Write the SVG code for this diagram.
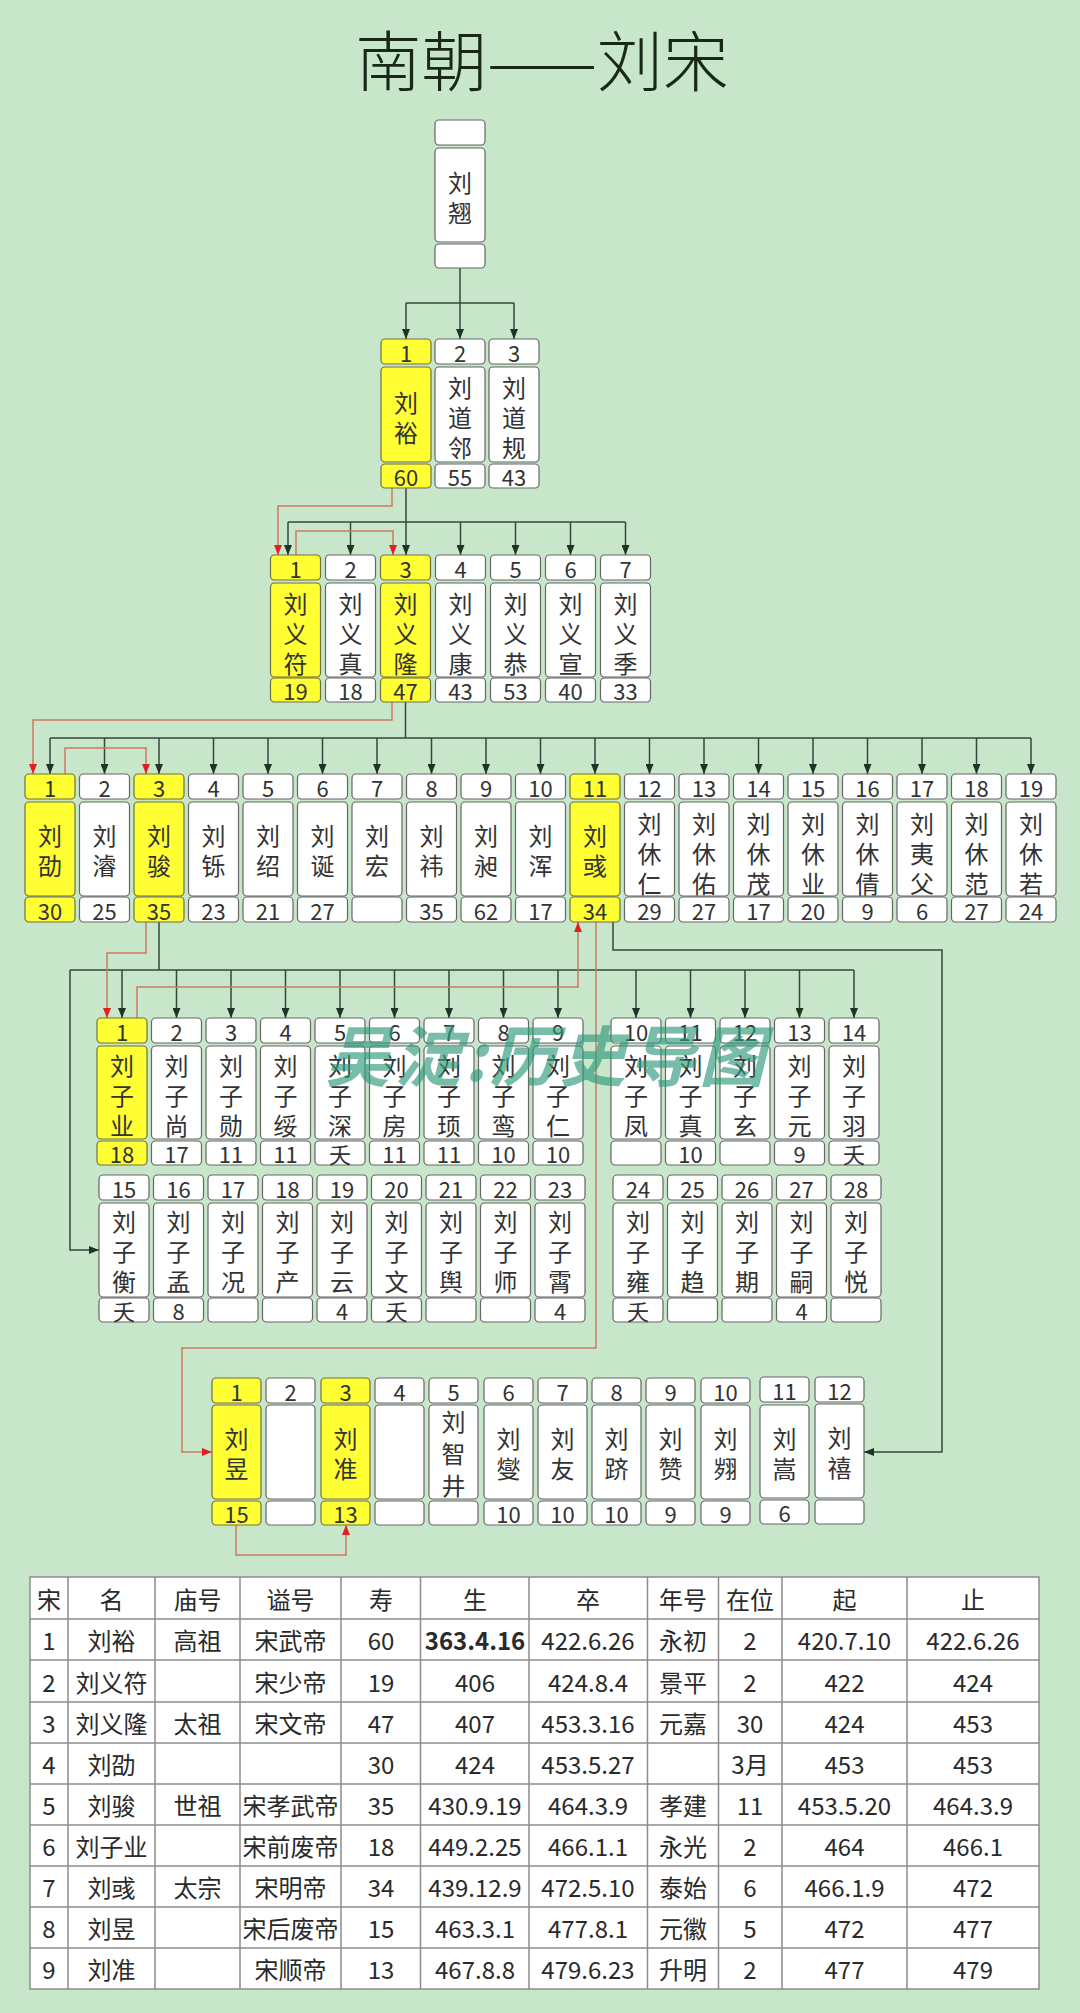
<svg xmlns="http://www.w3.org/2000/svg" width="1080" height="2013" viewBox="0 0 1080 2013">
<style>
.w{fill:#fff;stroke:#666;stroke-width:1.2}
.y{fill:#ffff33;stroke:#70703c;stroke-width:1.2}
text{font-family:"Noto Sans CJK SC","Noto Sans",sans-serif;fill:#333;text-anchor:middle;dominant-baseline:central}
.d{font-size:22px}
.nm{font-size:24px}
.c{fill:none;stroke:#34483a;stroke-width:1.5}
.r{fill:none;stroke:#cf7a60;stroke-width:1.5}
.ca{marker-end:url(#ab)}
.ra{marker-end:url(#ar)}
.tb{font-size:24px;fill:#2a2a2a}
.tl{fill:none;stroke:#8c8c8c;stroke-width:1.5}
</style>
<defs>
<marker id="ab" markerUnits="userSpaceOnUse" markerWidth="10" markerHeight="8" refX="10" refY="4" orient="auto"><path d="M0,0 L10,4 L0,8 z" fill="#1f3326"/></marker>
<marker id="ar" markerUnits="userSpaceOnUse" markerWidth="10" markerHeight="8" refX="10" refY="4" orient="auto"><path d="M0,0 L10,4 L0,8 z" fill="#e32020"/></marker>
</defs>
<rect x="0" y="0" width="1080" height="2013" fill="#c7e6ca"/>
<text x="542" y="57" style="font-size:66px;fill:#1a281a;font-weight:300">南朝——刘宋</text>

<g id="connectors">
<path class="c ca" d="M460,268 V339"/>
<path class="c" d="M406,303 H514"/>
<path class="c ca" d="M406,303 V339"/>
<path class="c ca" d="M514,303 V339"/>
<path class="c ca" d="M406,488 V555"/>
<path class="c" d="M288,522 H625.5"/>
<path class="c ca" d="M288,522 V555"/>
<path class="c ca" d="M350.5,522 V555"/>
<path class="c ca" d="M460.5,522 V555"/>
<path class="c ca" d="M515.5,522 V555"/>
<path class="c ca" d="M570.5,522 V555"/>
<path class="c ca" d="M625.5,522 V555"/>
<path class="c" d="M405.5,702 V738 M50,738 H1031"/>
<path class="c ca" d="M50,738 V774"/>
<path class="c ca" d="M104.5,738 V774"/>
<path class="c ca" d="M159,738 V774"/>
<path class="c ca" d="M213.5,738 V774"/>
<path class="c ca" d="M268,738 V774"/>
<path class="c ca" d="M322.5,738 V774"/>
<path class="c ca" d="M377,738 V774"/>
<path class="c ca" d="M431.5,738 V774"/>
<path class="c ca" d="M486,738 V774"/>
<path class="c ca" d="M540.5,738 V774"/>
<path class="c ca" d="M595,738 V774"/>
<path class="c ca" d="M649.5,738 V774"/>
<path class="c ca" d="M704,738 V774"/>
<path class="c ca" d="M758.5,738 V774"/>
<path class="c ca" d="M813,738 V774"/>
<path class="c ca" d="M867.5,738 V774"/>
<path class="c ca" d="M922,738 V774"/>
<path class="c ca" d="M976.5,738 V774"/>
<path class="c ca" d="M1031,738 V774"/>
<path class="c" d="M159,922 V970 M70,970 H854"/>
<path class="c ca" d="M70,970 V1250 H99"/>
<path class="c ca" d="M122,970 V1018"/>
<path class="c ca" d="M176.5,970 V1018"/>
<path class="c ca" d="M231,970 V1018"/>
<path class="c ca" d="M285.5,970 V1018"/>
<path class="c ca" d="M340,970 V1018"/>
<path class="c ca" d="M394.5,970 V1018"/>
<path class="c ca" d="M449,970 V1018"/>
<path class="c ca" d="M503.5,970 V1018"/>
<path class="c ca" d="M558,970 V1018"/>
<path class="c ca" d="M636,970 V1018"/>
<path class="c ca" d="M690.5,970 V1018"/>
<path class="c ca" d="M745,970 V1018"/>
<path class="c ca" d="M799.5,970 V1018"/>
<path class="c ca" d="M854,970 V1018"/>
<path class="c ca" d="M613,922 V950 H942 V1452 H864"/>
<path class="r ra" d="M392,488 V506 H278 V555"/>
<path class="r ra" d="M296,555 V531 H393 V555"/>
<path class="r ra" d="M392,702 V720 H33 V774"/>
<path class="r ra" d="M65,774 V748 H146 V774"/>
<path class="r ra" d="M146,922 V953 H107 V1018"/>
<path class="r ra" d="M137,1018 V987 H578 V922"/>
<path class="r ra" d="M596,922 V1348 H182 V1452 H212"/>
<path class="r ra" d="M236,1525 V1555 H346 V1525"/>
</g>

<g id="liuqiao"><rect class="w" x="435" y="120" width="50" height="25" rx="4"/><rect class="w" x="435" y="148" width="50" height="94" rx="4"/><rect class="w" x="435" y="244" width="50" height="24" rx="4"/><text class="nm" x="460" y="181">刘<tspan x="460" dy="30">翘</tspan></text></g>

<g id="liuyu"><rect class="y" x="381" y="339" width="50" height="25" rx="4"/><rect class="y" x="381" y="367" width="50" height="95" rx="4"/><rect class="y" x="381" y="464" width="50" height="24" rx="4"/><text class="d" x="406" y="351.5">1</text><text class="nm" x="406" y="401">刘<tspan x="406" dy="30">裕</tspan></text><text class="d" x="406" y="476">60</text></g>
<g id="liudaolian"><rect class="w" x="435" y="339" width="50" height="25" rx="4"/><rect class="w" x="435" y="367" width="50" height="95" rx="4"/><rect class="w" x="435" y="464" width="50" height="24" rx="4"/><text class="d" x="460" y="351.5">2</text><text class="nm" x="460" y="386">刘<tspan x="460" dy="30">道</tspan><tspan x="460" dy="30">邻</tspan></text><text class="d" x="460" y="476">55</text></g>
<g id="liudaogui"><rect class="w" x="489" y="339" width="50" height="25" rx="4"/><rect class="w" x="489" y="367" width="50" height="95" rx="4"/><rect class="w" x="489" y="464" width="50" height="24" rx="4"/><text class="d" x="514" y="351.5">3</text><text class="nm" x="514" y="386">刘<tspan x="514" dy="30">道</tspan><tspan x="514" dy="30">规</tspan></text><text class="d" x="514" y="476">43</text></g>

<g id="g2-1"><rect class="y" x="270.5" y="555" width="50" height="25" rx="4"/><rect class="y" x="270.5" y="583" width="50" height="94" rx="4"/><rect class="y" x="270.5" y="678" width="50" height="24" rx="4"/><text class="d" x="295.5" y="567.5">1</text><text class="nm" x="295.5" y="602">刘<tspan x="295.5" dy="30">义</tspan><tspan x="295.5" dy="30">符</tspan></text><text class="d" x="295.5" y="690">19</text></g>
<g id="g2-2"><rect class="w" x="325.5" y="555" width="50" height="25" rx="4"/><rect class="w" x="325.5" y="583" width="50" height="94" rx="4"/><rect class="w" x="325.5" y="678" width="50" height="24" rx="4"/><text class="d" x="350.5" y="567.5">2</text><text class="nm" x="350.5" y="602">刘<tspan x="350.5" dy="30">义</tspan><tspan x="350.5" dy="30">真</tspan></text><text class="d" x="350.5" y="690">18</text></g>
<g id="g2-3"><rect class="y" x="380.5" y="555" width="50" height="25" rx="4"/><rect class="y" x="380.5" y="583" width="50" height="94" rx="4"/><rect class="y" x="380.5" y="678" width="50" height="24" rx="4"/><text class="d" x="405.5" y="567.5">3</text><text class="nm" x="405.5" y="602">刘<tspan x="405.5" dy="30">义</tspan><tspan x="405.5" dy="30">隆</tspan></text><text class="d" x="405.5" y="690">47</text></g>
<g id="g2-4"><rect class="w" x="435.5" y="555" width="50" height="25" rx="4"/><rect class="w" x="435.5" y="583" width="50" height="94" rx="4"/><rect class="w" x="435.5" y="678" width="50" height="24" rx="4"/><text class="d" x="460.5" y="567.5">4</text><text class="nm" x="460.5" y="602">刘<tspan x="460.5" dy="30">义</tspan><tspan x="460.5" dy="30">康</tspan></text><text class="d" x="460.5" y="690">43</text></g>
<g id="g2-5"><rect class="w" x="490.5" y="555" width="50" height="25" rx="4"/><rect class="w" x="490.5" y="583" width="50" height="94" rx="4"/><rect class="w" x="490.5" y="678" width="50" height="24" rx="4"/><text class="d" x="515.5" y="567.5">5</text><text class="nm" x="515.5" y="602">刘<tspan x="515.5" dy="30">义</tspan><tspan x="515.5" dy="30">恭</tspan></text><text class="d" x="515.5" y="690">53</text></g>
<g id="g2-6"><rect class="w" x="545.5" y="555" width="50" height="25" rx="4"/><rect class="w" x="545.5" y="583" width="50" height="94" rx="4"/><rect class="w" x="545.5" y="678" width="50" height="24" rx="4"/><text class="d" x="570.5" y="567.5">6</text><text class="nm" x="570.5" y="602">刘<tspan x="570.5" dy="30">义</tspan><tspan x="570.5" dy="30">宣</tspan></text><text class="d" x="570.5" y="690">40</text></g>
<g id="g2-7"><rect class="w" x="600.5" y="555" width="50" height="25" rx="4"/><rect class="w" x="600.5" y="583" width="50" height="94" rx="4"/><rect class="w" x="600.5" y="678" width="50" height="24" rx="4"/><text class="d" x="625.5" y="567.5">7</text><text class="nm" x="625.5" y="602">刘<tspan x="625.5" dy="30">义</tspan><tspan x="625.5" dy="30">季</tspan></text><text class="d" x="625.5" y="690">33</text></g>

<g id="g3-1"><rect class="y" x="25" y="774" width="50" height="25" rx="4"/><rect class="y" x="25" y="802" width="50" height="94" rx="4"/><rect class="y" x="25" y="897" width="50" height="25" rx="4"/><text class="d" x="50" y="786.5">1</text><text class="nm" x="50" y="834">刘<tspan x="50" dy="30">劭</tspan></text><text class="d" x="50" y="909.5">30</text></g>
<g id="g3-2"><rect class="w" x="79.5" y="774" width="50" height="25" rx="4"/><rect class="w" x="79.5" y="802" width="50" height="94" rx="4"/><rect class="w" x="79.5" y="897" width="50" height="25" rx="4"/><text class="d" x="104.5" y="786.5">2</text><text class="nm" x="104.5" y="834">刘<tspan x="104.5" dy="30">濬</tspan></text><text class="d" x="104.5" y="909.5">25</text></g>
<g id="g3-3"><rect class="y" x="134" y="774" width="50" height="25" rx="4"/><rect class="y" x="134" y="802" width="50" height="94" rx="4"/><rect class="y" x="134" y="897" width="50" height="25" rx="4"/><text class="d" x="159" y="786.5">3</text><text class="nm" x="159" y="834">刘<tspan x="159" dy="30">骏</tspan></text><text class="d" x="159" y="909.5">35</text></g>
<g id="g3-4"><rect class="w" x="188.5" y="774" width="50" height="25" rx="4"/><rect class="w" x="188.5" y="802" width="50" height="94" rx="4"/><rect class="w" x="188.5" y="897" width="50" height="25" rx="4"/><text class="d" x="213.5" y="786.5">4</text><text class="nm" x="213.5" y="834">刘<tspan x="213.5" dy="30">铄</tspan></text><text class="d" x="213.5" y="909.5">23</text></g>
<g id="g3-5"><rect class="w" x="243" y="774" width="50" height="25" rx="4"/><rect class="w" x="243" y="802" width="50" height="94" rx="4"/><rect class="w" x="243" y="897" width="50" height="25" rx="4"/><text class="d" x="268" y="786.5">5</text><text class="nm" x="268" y="834">刘<tspan x="268" dy="30">绍</tspan></text><text class="d" x="268" y="909.5">21</text></g>
<g id="g3-6"><rect class="w" x="297.5" y="774" width="50" height="25" rx="4"/><rect class="w" x="297.5" y="802" width="50" height="94" rx="4"/><rect class="w" x="297.5" y="897" width="50" height="25" rx="4"/><text class="d" x="322.5" y="786.5">6</text><text class="nm" x="322.5" y="834">刘<tspan x="322.5" dy="30">诞</tspan></text><text class="d" x="322.5" y="909.5">27</text></g>
<g id="g3-7"><rect class="w" x="352" y="774" width="50" height="25" rx="4"/><rect class="w" x="352" y="802" width="50" height="94" rx="4"/><rect class="w" x="352" y="897" width="50" height="25" rx="4"/><text class="d" x="377" y="786.5">7</text><text class="nm" x="377" y="834">刘<tspan x="377" dy="30">宏</tspan></text></g>
<g id="g3-8"><rect class="w" x="406.5" y="774" width="50" height="25" rx="4"/><rect class="w" x="406.5" y="802" width="50" height="94" rx="4"/><rect class="w" x="406.5" y="897" width="50" height="25" rx="4"/><text class="d" x="431.5" y="786.5">8</text><text class="nm" x="431.5" y="834">刘<tspan x="431.5" dy="30">祎</tspan></text><text class="d" x="431.5" y="909.5">35</text></g>
<g id="g3-9"><rect class="w" x="461" y="774" width="50" height="25" rx="4"/><rect class="w" x="461" y="802" width="50" height="94" rx="4"/><rect class="w" x="461" y="897" width="50" height="25" rx="4"/><text class="d" x="486" y="786.5">9</text><text class="nm" x="486" y="834">刘<tspan x="486" dy="30">昶</tspan></text><text class="d" x="486" y="909.5">62</text></g>
<g id="g3-10"><rect class="w" x="515.5" y="774" width="50" height="25" rx="4"/><rect class="w" x="515.5" y="802" width="50" height="94" rx="4"/><rect class="w" x="515.5" y="897" width="50" height="25" rx="4"/><text class="d" x="540.5" y="786.5">10</text><text class="nm" x="540.5" y="834">刘<tspan x="540.5" dy="30">浑</tspan></text><text class="d" x="540.5" y="909.5">17</text></g>
<g id="g3-11"><rect class="y" x="570" y="774" width="50" height="25" rx="4"/><rect class="y" x="570" y="802" width="50" height="94" rx="4"/><rect class="y" x="570" y="897" width="50" height="25" rx="4"/><text class="d" x="595" y="786.5">11</text><text class="nm" x="595" y="834">刘<tspan x="595" dy="30">彧</tspan></text><text class="d" x="595" y="909.5">34</text></g>
<g id="g3-12"><rect class="w" x="624.5" y="774" width="50" height="25" rx="4"/><rect class="w" x="624.5" y="802" width="50" height="94" rx="4"/><rect class="w" x="624.5" y="897" width="50" height="25" rx="4"/><text class="d" x="649.5" y="786.5">12</text><text class="nm" x="649.5" y="822">刘<tspan x="649.5" dy="30">休</tspan><tspan x="649.5" dy="30">仁</tspan></text><text class="d" x="649.5" y="909.5">29</text></g>
<g id="g3-13"><rect class="w" x="679" y="774" width="50" height="25" rx="4"/><rect class="w" x="679" y="802" width="50" height="94" rx="4"/><rect class="w" x="679" y="897" width="50" height="25" rx="4"/><text class="d" x="704" y="786.5">13</text><text class="nm" x="704" y="822">刘<tspan x="704" dy="30">休</tspan><tspan x="704" dy="30">佑</tspan></text><text class="d" x="704" y="909.5">27</text></g>
<g id="g3-14"><rect class="w" x="733.5" y="774" width="50" height="25" rx="4"/><rect class="w" x="733.5" y="802" width="50" height="94" rx="4"/><rect class="w" x="733.5" y="897" width="50" height="25" rx="4"/><text class="d" x="758.5" y="786.5">14</text><text class="nm" x="758.5" y="822">刘<tspan x="758.5" dy="30">休</tspan><tspan x="758.5" dy="30">茂</tspan></text><text class="d" x="758.5" y="909.5">17</text></g>
<g id="g3-15"><rect class="w" x="788" y="774" width="50" height="25" rx="4"/><rect class="w" x="788" y="802" width="50" height="94" rx="4"/><rect class="w" x="788" y="897" width="50" height="25" rx="4"/><text class="d" x="813" y="786.5">15</text><text class="nm" x="813" y="822">刘<tspan x="813" dy="30">休</tspan><tspan x="813" dy="30">业</tspan></text><text class="d" x="813" y="909.5">20</text></g>
<g id="g3-16"><rect class="w" x="842.5" y="774" width="50" height="25" rx="4"/><rect class="w" x="842.5" y="802" width="50" height="94" rx="4"/><rect class="w" x="842.5" y="897" width="50" height="25" rx="4"/><text class="d" x="867.5" y="786.5">16</text><text class="nm" x="867.5" y="822">刘<tspan x="867.5" dy="30">休</tspan><tspan x="867.5" dy="30">倩</tspan></text><text class="d" x="867.5" y="909.5">9</text></g>
<g id="g3-17"><rect class="w" x="897" y="774" width="50" height="25" rx="4"/><rect class="w" x="897" y="802" width="50" height="94" rx="4"/><rect class="w" x="897" y="897" width="50" height="25" rx="4"/><text class="d" x="922" y="786.5">17</text><text class="nm" x="922" y="822">刘<tspan x="922" dy="30">夷</tspan><tspan x="922" dy="30">父</tspan></text><text class="d" x="922" y="909.5">6</text></g>
<g id="g3-18"><rect class="w" x="951.5" y="774" width="50" height="25" rx="4"/><rect class="w" x="951.5" y="802" width="50" height="94" rx="4"/><rect class="w" x="951.5" y="897" width="50" height="25" rx="4"/><text class="d" x="976.5" y="786.5">18</text><text class="nm" x="976.5" y="822">刘<tspan x="976.5" dy="30">休</tspan><tspan x="976.5" dy="30">范</tspan></text><text class="d" x="976.5" y="909.5">27</text></g>
<g id="g3-19"><rect class="w" x="1006" y="774" width="50" height="25" rx="4"/><rect class="w" x="1006" y="802" width="50" height="94" rx="4"/><rect class="w" x="1006" y="897" width="50" height="25" rx="4"/><text class="d" x="1031" y="786.5">19</text><text class="nm" x="1031" y="822">刘<tspan x="1031" dy="30">休</tspan><tspan x="1031" dy="30">若</tspan></text><text class="d" x="1031" y="909.5">24</text></g>

<g id="g4-1"><rect class="y" x="97" y="1018" width="50" height="25" rx="4"/><rect class="y" x="97" y="1046" width="50" height="93" rx="4"/><rect class="y" x="97" y="1141" width="50" height="24" rx="4"/><text class="d" x="122" y="1030.5">1</text><text class="nm" x="122" y="1064">刘<tspan x="122" dy="30">子</tspan><tspan x="122" dy="30">业</tspan></text><text class="d" x="122" y="1153">18</text></g>
<g id="g4-2"><rect class="w" x="151.5" y="1018" width="50" height="25" rx="4"/><rect class="w" x="151.5" y="1046" width="50" height="93" rx="4"/><rect class="w" x="151.5" y="1141" width="50" height="24" rx="4"/><text class="d" x="176.5" y="1030.5">2</text><text class="nm" x="176.5" y="1064">刘<tspan x="176.5" dy="30">子</tspan><tspan x="176.5" dy="30">尚</tspan></text><text class="d" x="176.5" y="1153">17</text></g>
<g id="g4-3"><rect class="w" x="206" y="1018" width="50" height="25" rx="4"/><rect class="w" x="206" y="1046" width="50" height="93" rx="4"/><rect class="w" x="206" y="1141" width="50" height="24" rx="4"/><text class="d" x="231" y="1030.5">3</text><text class="nm" x="231" y="1064">刘<tspan x="231" dy="30">子</tspan><tspan x="231" dy="30">勋</tspan></text><text class="d" x="231" y="1153">11</text></g>
<g id="g4-4"><rect class="w" x="260.5" y="1018" width="50" height="25" rx="4"/><rect class="w" x="260.5" y="1046" width="50" height="93" rx="4"/><rect class="w" x="260.5" y="1141" width="50" height="24" rx="4"/><text class="d" x="285.5" y="1030.5">4</text><text class="nm" x="285.5" y="1064">刘<tspan x="285.5" dy="30">子</tspan><tspan x="285.5" dy="30">绥</tspan></text><text class="d" x="285.5" y="1153">11</text></g>
<g id="g4-5"><rect class="w" x="315" y="1018" width="50" height="25" rx="4"/><rect class="w" x="315" y="1046" width="50" height="93" rx="4"/><rect class="w" x="315" y="1141" width="50" height="24" rx="4"/><text class="d" x="340" y="1030.5">5</text><text class="nm" x="340" y="1064">刘<tspan x="340" dy="30">子</tspan><tspan x="340" dy="30">深</tspan></text><text class="d" x="340" y="1153">夭</text></g>
<g id="g4-6"><rect class="w" x="369.5" y="1018" width="50" height="25" rx="4"/><rect class="w" x="369.5" y="1046" width="50" height="93" rx="4"/><rect class="w" x="369.5" y="1141" width="50" height="24" rx="4"/><text class="d" x="394.5" y="1030.5">6</text><text class="nm" x="394.5" y="1064">刘<tspan x="394.5" dy="30">子</tspan><tspan x="394.5" dy="30">房</tspan></text><text class="d" x="394.5" y="1153">11</text></g>
<g id="g4-7"><rect class="w" x="424" y="1018" width="50" height="25" rx="4"/><rect class="w" x="424" y="1046" width="50" height="93" rx="4"/><rect class="w" x="424" y="1141" width="50" height="24" rx="4"/><text class="d" x="449" y="1030.5">7</text><text class="nm" x="449" y="1064">刘<tspan x="449" dy="30">子</tspan><tspan x="449" dy="30">顼</tspan></text><text class="d" x="449" y="1153">11</text></g>
<g id="g4-8"><rect class="w" x="478.5" y="1018" width="50" height="25" rx="4"/><rect class="w" x="478.5" y="1046" width="50" height="93" rx="4"/><rect class="w" x="478.5" y="1141" width="50" height="24" rx="4"/><text class="d" x="503.5" y="1030.5">8</text><text class="nm" x="503.5" y="1064">刘<tspan x="503.5" dy="30">子</tspan><tspan x="503.5" dy="30">鸾</tspan></text><text class="d" x="503.5" y="1153">10</text></g>
<g id="g4-9"><rect class="w" x="533" y="1018" width="50" height="25" rx="4"/><rect class="w" x="533" y="1046" width="50" height="93" rx="4"/><rect class="w" x="533" y="1141" width="50" height="24" rx="4"/><text class="d" x="558" y="1030.5">9</text><text class="nm" x="558" y="1064">刘<tspan x="558" dy="30">子</tspan><tspan x="558" dy="30">仁</tspan></text><text class="d" x="558" y="1153">10</text></g>
<g id="g4-10"><rect class="w" x="611" y="1018" width="50" height="25" rx="4"/><rect class="w" x="611" y="1046" width="50" height="93" rx="4"/><rect class="w" x="611" y="1141" width="50" height="24" rx="4"/><text class="d" x="636" y="1030.5">10</text><text class="nm" x="636" y="1064">刘<tspan x="636" dy="30">子</tspan><tspan x="636" dy="30">凤</tspan></text></g>
<g id="g4-11"><rect class="w" x="665.5" y="1018" width="50" height="25" rx="4"/><rect class="w" x="665.5" y="1046" width="50" height="93" rx="4"/><rect class="w" x="665.5" y="1141" width="50" height="24" rx="4"/><text class="d" x="690.5" y="1030.5">11</text><text class="nm" x="690.5" y="1064">刘<tspan x="690.5" dy="30">子</tspan><tspan x="690.5" dy="30">真</tspan></text><text class="d" x="690.5" y="1153">10</text></g>
<g id="g4-12"><rect class="w" x="720" y="1018" width="50" height="25" rx="4"/><rect class="w" x="720" y="1046" width="50" height="93" rx="4"/><rect class="w" x="720" y="1141" width="50" height="24" rx="4"/><text class="d" x="745" y="1030.5">12</text><text class="nm" x="745" y="1064">刘<tspan x="745" dy="30">子</tspan><tspan x="745" dy="30">玄</tspan></text></g>
<g id="g4-13"><rect class="w" x="774.5" y="1018" width="50" height="25" rx="4"/><rect class="w" x="774.5" y="1046" width="50" height="93" rx="4"/><rect class="w" x="774.5" y="1141" width="50" height="24" rx="4"/><text class="d" x="799.5" y="1030.5">13</text><text class="nm" x="799.5" y="1064">刘<tspan x="799.5" dy="30">子</tspan><tspan x="799.5" dy="30">元</tspan></text><text class="d" x="799.5" y="1153">9</text></g>
<g id="g4-14"><rect class="w" x="829" y="1018" width="50" height="25" rx="4"/><rect class="w" x="829" y="1046" width="50" height="93" rx="4"/><rect class="w" x="829" y="1141" width="50" height="24" rx="4"/><text class="d" x="854" y="1030.5">14</text><text class="nm" x="854" y="1064">刘<tspan x="854" dy="30">子</tspan><tspan x="854" dy="30">羽</tspan></text><text class="d" x="854" y="1153">夭</text></g>

<g id="g4-15"><rect class="w" x="99" y="1175" width="50" height="25" rx="4"/><rect class="w" x="99" y="1203" width="50" height="94" rx="4"/><rect class="w" x="99" y="1298" width="50" height="24" rx="4"/><text class="d" x="124" y="1187.5">15</text><text class="nm" x="124" y="1220">刘<tspan x="124" dy="30">子</tspan><tspan x="124" dy="30">衡</tspan></text><text class="d" x="124" y="1310">夭</text></g>
<g id="g4-16"><rect class="w" x="153.5" y="1175" width="50" height="25" rx="4"/><rect class="w" x="153.5" y="1203" width="50" height="94" rx="4"/><rect class="w" x="153.5" y="1298" width="50" height="24" rx="4"/><text class="d" x="178.5" y="1187.5">16</text><text class="nm" x="178.5" y="1220">刘<tspan x="178.5" dy="30">子</tspan><tspan x="178.5" dy="30">孟</tspan></text><text class="d" x="178.5" y="1310">8</text></g>
<g id="g4-17"><rect class="w" x="208" y="1175" width="50" height="25" rx="4"/><rect class="w" x="208" y="1203" width="50" height="94" rx="4"/><rect class="w" x="208" y="1298" width="50" height="24" rx="4"/><text class="d" x="233" y="1187.5">17</text><text class="nm" x="233" y="1220">刘<tspan x="233" dy="30">子</tspan><tspan x="233" dy="30">况</tspan></text></g>
<g id="g4-18"><rect class="w" x="262.5" y="1175" width="50" height="25" rx="4"/><rect class="w" x="262.5" y="1203" width="50" height="94" rx="4"/><rect class="w" x="262.5" y="1298" width="50" height="24" rx="4"/><text class="d" x="287.5" y="1187.5">18</text><text class="nm" x="287.5" y="1220">刘<tspan x="287.5" dy="30">子</tspan><tspan x="287.5" dy="30">产</tspan></text></g>
<g id="g4-19"><rect class="w" x="317" y="1175" width="50" height="25" rx="4"/><rect class="w" x="317" y="1203" width="50" height="94" rx="4"/><rect class="w" x="317" y="1298" width="50" height="24" rx="4"/><text class="d" x="342" y="1187.5">19</text><text class="nm" x="342" y="1220">刘<tspan x="342" dy="30">子</tspan><tspan x="342" dy="30">云</tspan></text><text class="d" x="342" y="1310">4</text></g>
<g id="g4-20"><rect class="w" x="371.5" y="1175" width="50" height="25" rx="4"/><rect class="w" x="371.5" y="1203" width="50" height="94" rx="4"/><rect class="w" x="371.5" y="1298" width="50" height="24" rx="4"/><text class="d" x="396.5" y="1187.5">20</text><text class="nm" x="396.5" y="1220">刘<tspan x="396.5" dy="30">子</tspan><tspan x="396.5" dy="30">文</tspan></text><text class="d" x="396.5" y="1310">夭</text></g>
<g id="g4-21"><rect class="w" x="426" y="1175" width="50" height="25" rx="4"/><rect class="w" x="426" y="1203" width="50" height="94" rx="4"/><rect class="w" x="426" y="1298" width="50" height="24" rx="4"/><text class="d" x="451" y="1187.5">21</text><text class="nm" x="451" y="1220">刘<tspan x="451" dy="30">子</tspan><tspan x="451" dy="30">舆</tspan></text></g>
<g id="g4-22"><rect class="w" x="480.5" y="1175" width="50" height="25" rx="4"/><rect class="w" x="480.5" y="1203" width="50" height="94" rx="4"/><rect class="w" x="480.5" y="1298" width="50" height="24" rx="4"/><text class="d" x="505.5" y="1187.5">22</text><text class="nm" x="505.5" y="1220">刘<tspan x="505.5" dy="30">子</tspan><tspan x="505.5" dy="30">师</tspan></text></g>
<g id="g4-23"><rect class="w" x="535" y="1175" width="50" height="25" rx="4"/><rect class="w" x="535" y="1203" width="50" height="94" rx="4"/><rect class="w" x="535" y="1298" width="50" height="24" rx="4"/><text class="d" x="560" y="1187.5">23</text><text class="nm" x="560" y="1220">刘<tspan x="560" dy="30">子</tspan><tspan x="560" dy="30">霄</tspan></text><text class="d" x="560" y="1310">4</text></g>
<g id="g4-24"><rect class="w" x="613" y="1175" width="50" height="25" rx="4"/><rect class="w" x="613" y="1203" width="50" height="94" rx="4"/><rect class="w" x="613" y="1298" width="50" height="24" rx="4"/><text class="d" x="638" y="1187.5">24</text><text class="nm" x="638" y="1220">刘<tspan x="638" dy="30">子</tspan><tspan x="638" dy="30">雍</tspan></text><text class="d" x="638" y="1310">夭</text></g>
<g id="g4-25"><rect class="w" x="667.5" y="1175" width="50" height="25" rx="4"/><rect class="w" x="667.5" y="1203" width="50" height="94" rx="4"/><rect class="w" x="667.5" y="1298" width="50" height="24" rx="4"/><text class="d" x="692.5" y="1187.5">25</text><text class="nm" x="692.5" y="1220">刘<tspan x="692.5" dy="30">子</tspan><tspan x="692.5" dy="30">趋</tspan></text></g>
<g id="g4-26"><rect class="w" x="722" y="1175" width="50" height="25" rx="4"/><rect class="w" x="722" y="1203" width="50" height="94" rx="4"/><rect class="w" x="722" y="1298" width="50" height="24" rx="4"/><text class="d" x="747" y="1187.5">26</text><text class="nm" x="747" y="1220">刘<tspan x="747" dy="30">子</tspan><tspan x="747" dy="30">期</tspan></text></g>
<g id="g4-27"><rect class="w" x="776.5" y="1175" width="50" height="25" rx="4"/><rect class="w" x="776.5" y="1203" width="50" height="94" rx="4"/><rect class="w" x="776.5" y="1298" width="50" height="24" rx="4"/><text class="d" x="801.5" y="1187.5">27</text><text class="nm" x="801.5" y="1220">刘<tspan x="801.5" dy="30">子</tspan><tspan x="801.5" dy="30">嗣</tspan></text><text class="d" x="801.5" y="1310">4</text></g>
<g id="g4-28"><rect class="w" x="831" y="1175" width="50" height="25" rx="4"/><rect class="w" x="831" y="1203" width="50" height="94" rx="4"/><rect class="w" x="831" y="1298" width="50" height="24" rx="4"/><text class="d" x="856" y="1187.5">28</text><text class="nm" x="856" y="1220">刘<tspan x="856" dy="30">子</tspan><tspan x="856" dy="30">悦</tspan></text></g>

<g id="g5-1"><rect class="y" x="212" y="1378" width="49" height="25" rx="4"/><rect class="y" x="212" y="1405" width="49" height="94" rx="4"/><rect class="y" x="212" y="1501" width="49" height="24" rx="4"/><text class="d" x="236.5" y="1390.5">1</text><text class="nm" x="236.5" y="1437">刘<tspan x="236.5" dy="30">昱</tspan></text><text class="d" x="236.5" y="1513">15</text></g>
<g id="g5-2"><rect class="w" x="266" y="1378" width="49" height="25" rx="4"/><rect class="w" x="266" y="1405" width="49" height="94" rx="4"/><rect class="w" x="266" y="1501" width="49" height="24" rx="4"/><text class="d" x="290.5" y="1390.5">2</text></g>
<g id="g5-3"><rect class="y" x="321" y="1378" width="49" height="25" rx="4"/><rect class="y" x="321" y="1405" width="49" height="94" rx="4"/><rect class="y" x="321" y="1501" width="49" height="24" rx="4"/><text class="d" x="345.5" y="1390.5">3</text><text class="nm" x="345.5" y="1437">刘<tspan x="345.5" dy="30">准</tspan></text><text class="d" x="345.5" y="1513">13</text></g>
<g id="g5-4"><rect class="w" x="375" y="1378" width="49" height="25" rx="4"/><rect class="w" x="375" y="1405" width="49" height="94" rx="4"/><rect class="w" x="375" y="1501" width="49" height="24" rx="4"/><text class="d" x="399.5" y="1390.5">4</text></g>
<g id="g5-5"><rect class="w" x="429" y="1378" width="49" height="25" rx="4"/><rect class="w" x="429" y="1405" width="49" height="94" rx="4"/><rect class="w" x="429" y="1501" width="49" height="24" rx="4"/><text class="d" x="453.5" y="1390.5">5</text><text class="nm" x="453.5" y="1420">刘<tspan x="453.5" dy="32">智</tspan><tspan x="453.5" dy="32">井</tspan></text></g>
<g id="g5-6"><rect class="w" x="484" y="1378" width="49" height="25" rx="4"/><rect class="w" x="484" y="1405" width="49" height="94" rx="4"/><rect class="w" x="484" y="1501" width="49" height="24" rx="4"/><text class="d" x="508.5" y="1390.5">6</text><text class="nm" x="508.5" y="1437">刘<tspan x="508.5" dy="30">燮</tspan></text><text class="d" x="508.5" y="1513">10</text></g>
<g id="g5-7"><rect class="w" x="538" y="1378" width="49" height="25" rx="4"/><rect class="w" x="538" y="1405" width="49" height="94" rx="4"/><rect class="w" x="538" y="1501" width="49" height="24" rx="4"/><text class="d" x="562.5" y="1390.5">7</text><text class="nm" x="562.5" y="1437">刘<tspan x="562.5" dy="30">友</tspan></text><text class="d" x="562.5" y="1513">10</text></g>
<g id="g5-8"><rect class="w" x="592" y="1378" width="49" height="25" rx="4"/><rect class="w" x="592" y="1405" width="49" height="94" rx="4"/><rect class="w" x="592" y="1501" width="49" height="24" rx="4"/><text class="d" x="616.5" y="1390.5">8</text><text class="nm" x="616.5" y="1437">刘<tspan x="616.5" dy="30">跻</tspan></text><text class="d" x="616.5" y="1513">10</text></g>
<g id="g5-9"><rect class="w" x="646" y="1378" width="49" height="25" rx="4"/><rect class="w" x="646" y="1405" width="49" height="94" rx="4"/><rect class="w" x="646" y="1501" width="49" height="24" rx="4"/><text class="d" x="670.5" y="1390.5">9</text><text class="nm" x="670.5" y="1437">刘<tspan x="670.5" dy="30">赞</tspan></text><text class="d" x="670.5" y="1513">9</text></g>
<g id="g5-10"><rect class="w" x="701" y="1378" width="49" height="25" rx="4"/><rect class="w" x="701" y="1405" width="49" height="94" rx="4"/><rect class="w" x="701" y="1501" width="49" height="24" rx="4"/><text class="d" x="725.5" y="1390.5">10</text><text class="nm" x="725.5" y="1437">刘<tspan x="725.5" dy="30">翙</tspan></text><text class="d" x="725.5" y="1513">9</text></g>
<g id="g5-11"><rect class="w" x="760" y="1377" width="49" height="25" rx="4"/><rect class="w" x="760" y="1405" width="49" height="93" rx="4"/><rect class="w" x="760" y="1500" width="49" height="24" rx="4"/><text class="d" x="784.5" y="1389.5">11</text><text class="nm" x="784.5" y="1437">刘<tspan x="784.5" dy="30">嵩</tspan></text><text class="d" x="784.5" y="1512">6</text></g>
<g id="g5-12"><rect class="w" x="815" y="1377" width="49" height="25" rx="4"/><rect class="w" x="815" y="1404" width="49" height="94" rx="4"/><rect class="w" x="815" y="1500" width="49" height="24" rx="4"/><text class="d" x="839.5" y="1389.5">12</text><text class="nm" x="839.5" y="1436">刘<tspan x="839.5" dy="30">禧</tspan></text></g>

<text x="325" y="1052" textLength="440" lengthAdjust="spacing" style="text-anchor:start;font-size:66px;font-weight:bold;font-style:italic;fill:#2f9a7c;opacity:0.65">吴淀:历史导图</text>

<g id="table">
<rect x="30" y="1577" width="1009" height="412" fill="#fff" stroke="#8c8c8c" stroke-width="1.5"/>
<path class="tl" d="M30,1619 H1039 M30,1660 H1039 M30,1702 H1039 M30,1743 H1039 M30,1784 H1039 M30,1825 H1039 M30,1866 H1039 M30,1907 H1039 M30,1948 H1039"/>
<path class="tl" d="M68,1577 V1989 M155,1577 V1989 M240,1577 V1989 M341,1577 V1989 M420.5,1577 V1989 M529,1577 V1989 M647.5,1577 V1989 M718.5,1577 V1989 M782,1577 V1989 M907,1577 V1989"/>
<g class="tb">
<text class="tb" x="49" y="1598">宋</text><text class="tb" x="111.5" y="1598">名</text><text class="tb" x="197.5" y="1598">庙号</text><text class="tb" x="290.5" y="1598">谥号</text><text class="tb" x="381" y="1598">寿</text><text class="tb" x="475" y="1598">生</text><text class="tb" x="588" y="1598">卒</text><text class="tb" x="683" y="1598">年号</text><text class="tb" x="750" y="1598">在位</text><text class="tb" x="844.5" y="1598">起</text><text class="tb" x="973" y="1598">止</text>
<text class="tb" x="49" y="1639.5">1</text><text class="tb" x="111.5" y="1639.5">刘裕</text><text class="tb" x="197.5" y="1639.5">高祖</text><text class="tb" x="290.5" y="1639.5">宋武帝</text><text class="tb" x="381" y="1639.5">60</text><text class="tb" x="475" y="1639.5" font-weight="bold">363.4.16</text><text class="tb" x="588" y="1639.5">422.6.26</text><text class="tb" x="683" y="1639.5">永初</text><text class="tb" x="750" y="1639.5">2</text><text class="tb" x="844.5" y="1639.5">420.7.10</text><text class="tb" x="973" y="1639.5">422.6.26</text>
<text class="tb" x="49" y="1681">2</text><text class="tb" x="111.5" y="1681">刘义符</text><text class="tb" x="290.5" y="1681">宋少帝</text><text class="tb" x="381" y="1681">19</text><text class="tb" x="475" y="1681">406</text><text class="tb" x="588" y="1681">424.8.4</text><text class="tb" x="683" y="1681">景平</text><text class="tb" x="750" y="1681">2</text><text class="tb" x="844.5" y="1681">422</text><text class="tb" x="973" y="1681">424</text>
<text class="tb" x="49" y="1722.5">3</text><text class="tb" x="111.5" y="1722.5">刘义隆</text><text class="tb" x="197.5" y="1722.5">太祖</text><text class="tb" x="290.5" y="1722.5">宋文帝</text><text class="tb" x="381" y="1722.5">47</text><text class="tb" x="475" y="1722.5">407</text><text class="tb" x="588" y="1722.5">453.3.16</text><text class="tb" x="683" y="1722.5">元嘉</text><text class="tb" x="750" y="1722.5">30</text><text class="tb" x="844.5" y="1722.5">424</text><text class="tb" x="973" y="1722.5">453</text>
<text class="tb" x="49" y="1763.5">4</text><text class="tb" x="111.5" y="1763.5">刘劭</text><text class="tb" x="381" y="1763.5">30</text><text class="tb" x="475" y="1763.5">424</text><text class="tb" x="588" y="1763.5">453.5.27</text><text class="tb" x="750" y="1763.5">3月</text><text class="tb" x="844.5" y="1763.5">453</text><text class="tb" x="973" y="1763.5">453</text>
<text class="tb" x="49" y="1804.5">5</text><text class="tb" x="111.5" y="1804.5">刘骏</text><text class="tb" x="197.5" y="1804.5">世祖</text><text class="tb" x="290.5" y="1804.5">宋孝武帝</text><text class="tb" x="381" y="1804.5">35</text><text class="tb" x="475" y="1804.5">430.9.19</text><text class="tb" x="588" y="1804.5">464.3.9</text><text class="tb" x="683" y="1804.5">孝建</text><text class="tb" x="750" y="1804.5">11</text><text class="tb" x="844.5" y="1804.5">453.5.20</text><text class="tb" x="973" y="1804.5">464.3.9</text>
<text class="tb" x="49" y="1845.5">6</text><text class="tb" x="111.5" y="1845.5">刘子业</text><text class="tb" x="290.5" y="1845.5">宋前废帝</text><text class="tb" x="381" y="1845.5">18</text><text class="tb" x="475" y="1845.5">449.2.25</text><text class="tb" x="588" y="1845.5">466.1.1</text><text class="tb" x="683" y="1845.5">永光</text><text class="tb" x="750" y="1845.5">2</text><text class="tb" x="844.5" y="1845.5">464</text><text class="tb" x="973" y="1845.5">466.1</text>
<text class="tb" x="49" y="1886.5">7</text><text class="tb" x="111.5" y="1886.5">刘彧</text><text class="tb" x="197.5" y="1886.5">太宗</text><text class="tb" x="290.5" y="1886.5">宋明帝</text><text class="tb" x="381" y="1886.5">34</text><text class="tb" x="475" y="1886.5">439.12.9</text><text class="tb" x="588" y="1886.5">472.5.10</text><text class="tb" x="683" y="1886.5">泰始</text><text class="tb" x="750" y="1886.5">6</text><text class="tb" x="844.5" y="1886.5">466.1.9</text><text class="tb" x="973" y="1886.5">472</text>
<text class="tb" x="49" y="1927.5">8</text><text class="tb" x="111.5" y="1927.5">刘昱</text><text class="tb" x="290.5" y="1927.5">宋后废帝</text><text class="tb" x="381" y="1927.5">15</text><text class="tb" x="475" y="1927.5">463.3.1</text><text class="tb" x="588" y="1927.5">477.8.1</text><text class="tb" x="683" y="1927.5">元徽</text><text class="tb" x="750" y="1927.5">5</text><text class="tb" x="844.5" y="1927.5">472</text><text class="tb" x="973" y="1927.5">477</text>
<text class="tb" x="49" y="1968.5">9</text><text class="tb" x="111.5" y="1968.5">刘准</text><text class="tb" x="290.5" y="1968.5">宋顺帝</text><text class="tb" x="381" y="1968.5">13</text><text class="tb" x="475" y="1968.5">467.8.8</text><text class="tb" x="588" y="1968.5">479.6.23</text><text class="tb" x="683" y="1968.5">升明</text><text class="tb" x="750" y="1968.5">2</text><text class="tb" x="844.5" y="1968.5">477</text><text class="tb" x="973" y="1968.5">479</text>
</g>
</g>
</svg>
